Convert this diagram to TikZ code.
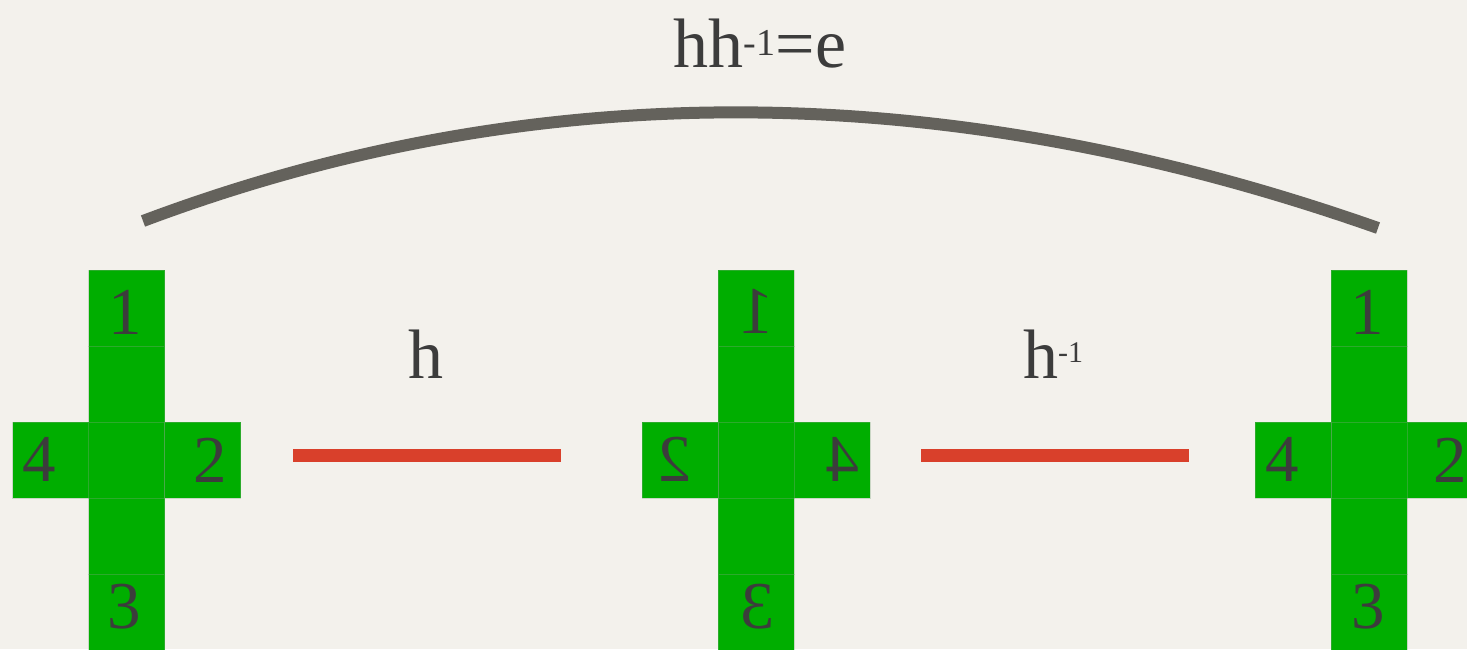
\documentclass[tikz,border=0pt]{standalone}
\usepackage{fontspec}
\setmainfont{Liberation Serif}
\usepackage{graphicx}
\definecolor{bgc}{HTML}{F3F1EC}
\definecolor{grn}{HTML}{00AE00}
\definecolor{grnedge}{HTML}{7FA87F}
\definecolor{txt}{HTML}{3C3C3C}
\definecolor{redl}{HTML}{D9402B}
\definecolor{arcg}{HTML}{64625C}
\newcommand\mysup[3]{\raisebox{#2}{\fontsize{#1}{#1}\selectfont #3}}
\begin{document}
\begin{tikzpicture}[x=1pt,y=-1pt,
  sq/.style={draw=grnedge, draw opacity=0.35, line width=0.6pt, fill=grn, minimum size=76pt, inner sep=0pt, outer sep=0pt},
  dig/.style={text=txt, font=\fontsize{67}{67}\selectfont, inner sep=0pt, anchor=base},
  lbl/.style={text=txt, font=\fontsize{70}{70}\selectfont, inner sep=0pt, anchor=base},
  redline/.style={draw=redl, line width=13pt},
  arcline/.style={draw=arcg, line width=12pt}]
\useasboundingbox (0,0) rectangle (1467,649);
\fill[bgc] (0,0) rectangle (1467,649);
\clip (0,0) rectangle (1467,649);
% cross 1
\node[sq] (aT) at (126.5,308) {};
\node[sq] (aU) at (126.5,384) {};
\node[sq] (aM) at (126.5,460) {};
\node[sq] (aD) at (126.5,536) {};
\node[sq] (aB) at (126.5,612) {};
\node[sq] (aL) at (50.5,460) {};
\node[sq] (aR) at (202.5,460) {};
\node[dig] (a1) at (125,334) {1};
\node[dig] (a4) at (39,481) {4};
\node[dig] (a2) at (210,482) {2};
\node[dig] (a3) at (124,628) {3};
% cross 2 (mirrored)
\node[sq] (bT) at (756,308) {};
\node[sq] (bU) at (756,384) {};
\node[sq] (bM) at (756,460) {};
\node[sq] (bD) at (756,536) {};
\node[sq] (bB) at (756,612) {};
\node[sq] (bL) at (680,460) {};
\node[sq] (bR) at (832,460) {};
\node[dig] (b1) at (757,333) {\reflectbox{1}};
\node[dig] (b2) at (675,481) {\reflectbox{2}};
\node[dig] (b4) at (843,481) {\reflectbox{4}};
\node[dig] (b3) at (758,628) {\reflectbox{3}};
% cross 3
\node[sq] (cT) at (1369,308) {};
\node[sq] (cU) at (1369,384) {};
\node[sq] (cM) at (1369,460) {};
\node[sq] (cD) at (1369,536) {};
\node[sq] (cB) at (1369,612) {};
\node[sq] (cL) at (1293,460) {};
\node[sq] (cR) at (1445,460) {};
\node[dig] (c1) at (1367,334) {1};
\node[dig] (c4) at (1282,481) {4};
\node[dig] (c2) at (1450,482) {2};
\node[dig] (c3) at (1368,628) {3};
% connectors
\coordinate (h1s) at (293,455);
\coordinate (h1e) at (561,455);
\coordinate (h2s) at (921,455);
\coordinate (h2e) at (1189,455);
\draw[redline] (h1s) -- (h1e);
\draw[redline] (h2s) -- (h2e);
\coordinate (arcS) at (143,221);
\coordinate (arcE) at (1378,228);
\draw[arcline] (arcS) .. controls (534,74) and (946,76) .. (arcE);
% labels
\node[lbl] (lh) at (426,378) {h};
\node[lbl] (lhi) at (1053,378) {h\mysup{30pt}{16pt}{-1}};
\node[lbl] (le) at (760,67) {hh\mysup{38pt}{12pt}{-1}=e};
\end{tikzpicture}
\end{document}
